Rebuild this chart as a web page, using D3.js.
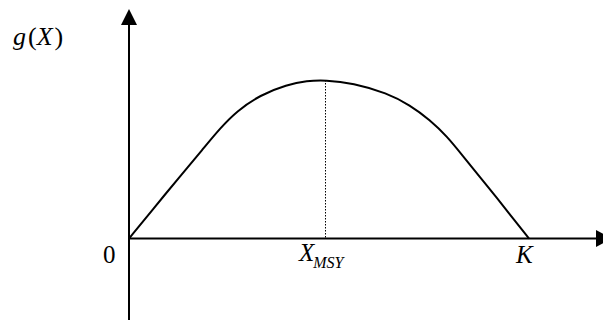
<!DOCTYPE html>
<html><head><meta charset="utf-8">
<script src="https://cdn.jsdelivr.net/npm/d3@7"></script>
<style>
html,body{margin:0;padding:0;background:#fff;}
</style></head>
<body>
<svg id="chart" width="603" height="320"></svg>
<script>
// Curve data: stock X (0..K=100) and growth g(X) (peak = 100 at X_MSY)
const stockX  = [0, 6, 12.5, 18.5, 22.75, 27, 32.75, 39.5, 44.5, 49, 56, 64.5, 70.25, 75.25, 79.5, 83.5, 87.75, 92, 96, 100];
const growthG = [0, 18.5, 38.5, 56.5, 69.5, 80.5, 90.5, 97, 99.5, 100, 98.1, 91.8, 84.2, 74.8, 64.5, 52, 38.8, 25.6, 12.6, 0];
const xMSY = 49;
const capacityK = 100;
const xDomain = [0, 118.5];
const yDomain = [-51.4, 144.8];
const tickLabels = [{v: 0, t: "0"}, {v: xMSY, t: "X", sub: "MSY"}, {v: capacityK, t: "K"}];

const FONT = "'Liberation Serif', 'Times New Roman', Times, serif";
const svg = d3.select("#chart");
const x = d3.scaleLinear().domain(xDomain).range([129, 603]);
const y = d3.scaleLinear().domain(yDomain).range([320, 9]);

// axes
svg.append("line").attr("x1", x(0)).attr("x2", x(xDomain[1]) - 6)
  .attr("y1", y(0)).attr("y2", y(0)).attr("stroke", "#000").attr("stroke-width", 2);
svg.append("line").attr("x1", x(0)).attr("x2", x(0))
  .attr("y1", y(yDomain[0])).attr("y2", y(yDomain[1]) + 10).attr("stroke", "#000").attr("stroke-width", 2);
// arrowheads
const ax = x(0), ay = y(0);
svg.append("path").attr("d", `M${ax},${y(yDomain[1])} L${ax - 8},${y(yDomain[1]) + 16} L${ax + 8},${y(yDomain[1]) + 16} Z`).attr("fill", "#000");
svg.append("path").attr("d", `M596,${ay - 8.5} L612,${ay} L596,${ay + 8.5} Z`).attr("fill", "#000");

// dotted line at X_MSY
svg.append("line").attr("x1", x(xMSY) + 0.5).attr("x2", x(xMSY) + 0.5)
  .attr("y1", y(100)).attr("y2", y(0))
  .attr("stroke", "#000").attr("stroke-width", 1).attr("stroke-dasharray", "1.5,1.5");

// curve
const line = d3.line().x((d, i) => x(stockX[i])).y(d => y(d)).curve(d3.curveBasis);
svg.append("path").datum(growthG).attr("d", line)
  .attr("fill", "none").attr("stroke", "#000").attr("stroke-width", 2);

// y label g(X)
const gl = svg.append("text").attr("x", 13).attr("y", 45).attr("font-size", 26).attr("font-family", FONT);
gl.append("tspan").attr("font-style", "italic").text("g");
gl.append("tspan").attr("dx", 2).text("(");
gl.append("tspan").attr("font-style", "italic").text("X");
gl.append("tspan").attr("dx", 2).text(")");

// x tick labels
const t0 = tickLabels[0];
svg.append("text").attr("x", x(t0.v) - 26).attr("y", 263).attr("font-size", 25).attr("font-family", FONT).text(t0.t);
const t1 = tickLabels[1];
const tm = svg.append("text").attr("x", x(t1.v) - 26).attr("y", 261).attr("font-size", 25).attr("font-family", FONT);
tm.append("tspan").attr("font-style", "italic").text(t1.t);
tm.append("tspan").attr("font-style", "italic").attr("font-size", 16).attr("dy", 7).attr("dx", -1).text(t1.sub);
const t2 = tickLabels[2];
svg.append("text").attr("x", x(t2.v) - 13).attr("y", 263).attr("font-size", 25).attr("font-family", FONT).attr("font-style", "italic").text(t2.t);
</script>
</body></html>
